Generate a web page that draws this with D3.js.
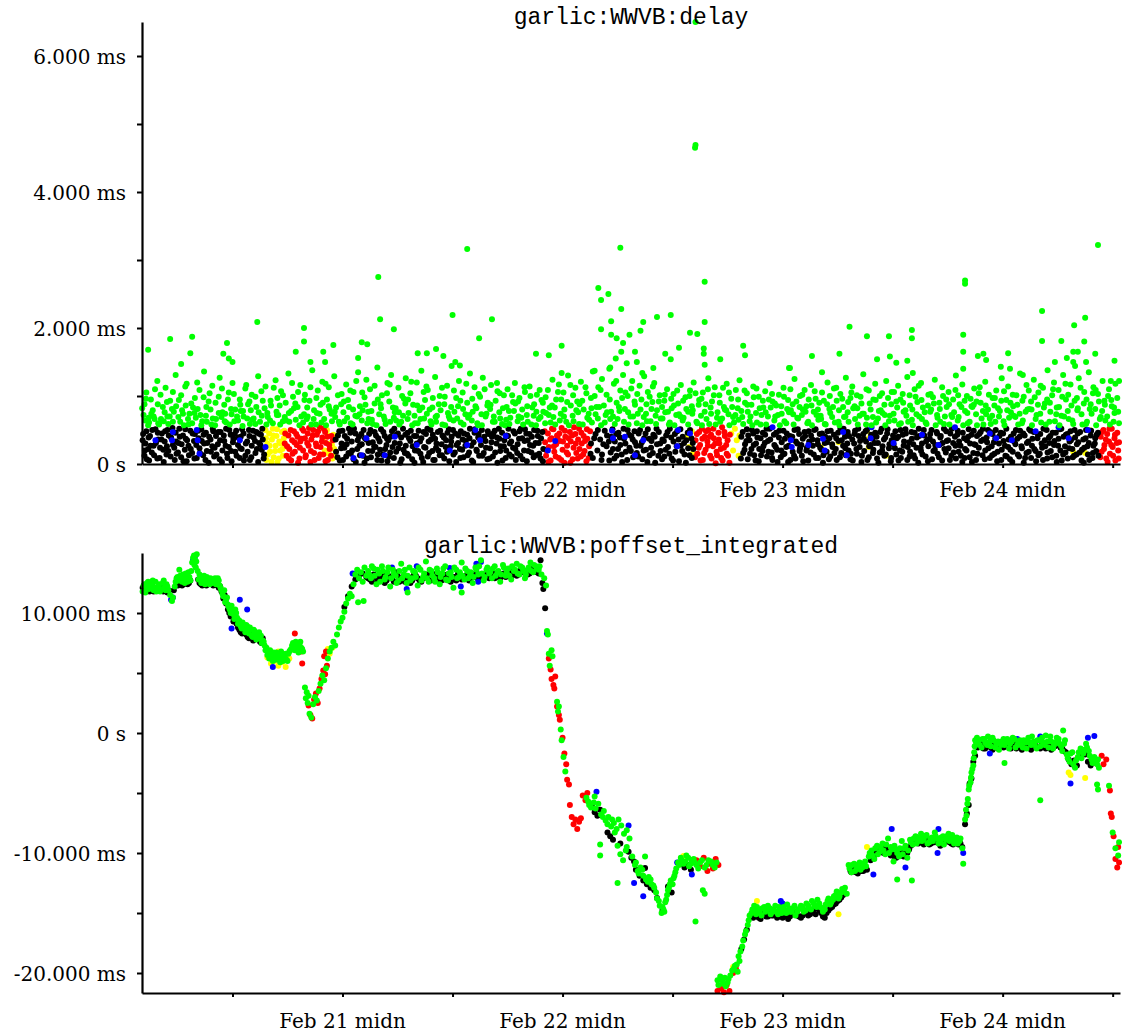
<!DOCTYPE html>
<html><head><meta charset="utf-8">
<script src="https://cdn.jsdelivr.net/npm/d3@7"></script>
<style>body{margin:0;background:#fff}svg{display:block}</style>
</head><body><svg id="c" width="1122" height="1036"></svg>
<script>
// time values: hours since Feb 20 00:00 ; values in ms
const timeStart = 2.13, timeEnd = 108.8;
const dayTicks = [12,24,36,48,60,72,84,96,108];
const dayLabels = {24:"Feb 21 midn",48:"Feb 22 midn",72:"Feb 23 midn",96:"Feb 24 midn"};
const titles = ["garlic:WWVB:delay","garlic:WWVB:poffset_integrated"];
const delayTicks = [0,2,4,6], delayMinor = [1,3,5];
const delayTickLabels = ["0 s","2.000 ms","4.000 ms","6.000 ms"];
const offTicks = [-20,-10,0,10], offMinor = [-15,-5,5];
const offTickLabels = ["-20.000 ms","-10.000 ms","0 s","10.000 ms"];

const delayGreen = [[2.3,.72],[2.6,1.05],[2.9,.61],[2.4,.88],[3.1,.95],[3.5,.66],[3.8,1.22],[3.3,.79],[4.0,.58],[4.4,.84],[4.7,1.12],[4.9,.70],[5.2,.93],[5.5,.62],[5.8,1.31],[5.6,.77],[6.1,.69],[6.4,1.01],[6.7,.57],[6.9,.86],[7.0,1.18],[7.3,.74],[7.6,.60],[7.9,.97],[8.2,.81],[8.4,1.09],[8.7,.63],[8.9,1.36],[9.1,.71],[9.4,.92],[9.7,.58],[9.8,1.15],[10.2,.66],[10.5,.99],[10.6,1.27],[10.9,.76],[11.1,.87],[11.3,.61],[11.6,1.05],[11.9,.73],[12.0,1.19],[12.3,.80],[12.6,.64],[12.8,.95],[13.2,.70],[13.4,1.11],[13.7,.88],[13.9,.59],[14.1,1.02],[14.3,.67],[14.6,.84],[14.8,1.29],[15.0,.62],[15.3,.93],[15.6,1.14],[15.8,.75],[16.2,.86],[16.4,.60],[16.7,1.23],[16.9,.97],[17.0,.72],[17.3,1.07],[17.5,.63],[17.8,.90],[18.1,1.33],[18.4,.78],[18.6,.99],[18.9,.65],[19.1,.84],[19.4,1.16],[19.7,.61],[19.9,1.02],[20.2,.70],[20.4,.93],[20.7,1.38],[20.9,.79],[21.1,.58],[21.3,1.08],[21.6,.87],[21.8,1.21],[22.0,.66],[22.3,.95],[22.5,1.13],[22.8,.74],[23.1,1.29],[23.3,.83],[23.6,.62],[23.9,1.03],[24.1,.76],[24.4,1.17],[24.6,.94],[24.9,.60],[25.2,1.06],[25.4,.71],[25.7,1.35],[25.9,.85],[26.1,.64],[26.4,.98],[26.6,1.24],[26.8,.77],[27.0,1.10],[27.3,.59],[27.5,.89],[27.8,1.42],[28.0,.73],[28.3,1.01],[28.6,.65],[28.9,1.19],[29.1,.92],[29.3,1.31],[29.6,.68],[29.8,.82],[30.1,1.12],[30.4,.62],[30.7,.96],[30.9,1.26],[31.2,.75],[31.4,1.04],[31.7,.87],[31.9,.60],[32.1,1.20],[32.4,.79],[32.6,1.37],[32.9,.67],[33.0,.94],[33.3,1.09],[33.6,.63],[33.8,.83],[34.1,1.28],[34.3,.71],[34.6,1.00],[34.9,.58],[35.1,.88],[35.4,1.15],[35.7,.66],[35.9,1.44],[36.2,.77],[36.4,.97],[36.7,1.22],[36.9,.61],[37.1,1.05],[37.4,.73],[37.6,.90],[37.9,1.33],[38.1,.64],[38.4,1.13],[38.6,.82],[38.8,.57],[39.0,.99],[39.3,1.27],[39.6,.70],[39.8,.86],[40.2,1.16],[40.4,.62],[40.7,.93],[40.9,1.07],[41.1,.76],[41.4,.59],[41.6,1.01],[41.9,.84],[42.0,1.10],[42.3,.68],[42.6,.91],[42.8,1.19],[43.1,.63],[43.3,.97],[43.6,.80],[43.9,1.06],[44.1,.72],[44.4,1.14],[44.6,.58],[44.9,.88],[45.2,1.02],[45.4,.66],[45.7,.94],[45.9,.77],[46.1,.60],[46.4,1.09],[46.6,.83],[46.9,1.24],[47.0,.69],[47.3,.95],[47.6,1.17],[47.8,.74],[48.1,1.05],[48.4,.62],[48.6,1.30],[48.9,.86],[49.1,.71],[49.4,1.12],[49.6,.92],[49.8,.59],[50.0,1.21],[50.3,.80],[50.6,1.04],[50.9,.65],[51.1,.97],[51.3,1.36],[51.6,.73],[51.9,1.13],[52.0,.84],[52.3,1.25],[52.6,.61],[52.8,1.02],[53.1,1.40],[53.3,.77],[53.6,1.18],[53.9,.90],[54.0,.66],[54.3,1.08],[54.6,1.31],[54.8,.81],[55.1,1.00],[55.4,.70],[55.6,1.22],[55.9,.87],[56.1,.60],[56.4,1.15],[56.6,.95],[56.9,1.29],[57.1,.74],[57.3,1.06],[57.6,.63],[57.8,.91],[58.0,1.19],[58.3,.79],[58.6,1.01],[58.9,.67],[59.1,.93],[59.4,1.10],[59.6,.58],[59.9,.82],[60.1,1.03],[60.4,.72],[60.6,.89],[60.9,1.16],[61.1,.64],[61.4,.98],[61.7,.77],[61.9,1.08],[62.1,.85],[62.3,1.20],[62.6,.62],[62.9,.94],[63.1,.71],[63.3,1.05],[63.6,.88],[63.9,1.26],[64.0,.59],[64.3,.92],[64.6,1.13],[64.9,.76],[65.1,1.01],[65.4,.67],[65.6,.84],[65.9,1.18],[66.1,.73],[66.4,.96],[66.7,.61],[66.9,1.09],[67.1,.82],[67.3,1.23],[67.6,.69],[67.9,.90],[68.1,1.04],[68.4,.63],[68.6,.87],[68.8,1.14],[69.1,.75],[69.4,.99],[69.6,.58],[69.9,.83],[70.1,1.07],[70.4,.70],[70.6,1.19],[70.9,.92],[71.1,.64],[71.3,.86],[71.6,1.02],[71.9,.74],[72.1,1.12],[72.4,.60],[72.6,.94],[72.9,.79],[73.1,.88],[73.3,1.25],[73.6,.68],[73.9,1.00],[74.1,.72],[74.4,1.09],[74.6,.85],[74.8,.62],[75.1,1.16],[75.4,.77],[75.6,.96],[75.9,.65],[76.0,.90],[76.3,1.05],[76.6,.59],[76.9,1.20],[77.1,.81],[77.4,.69],[77.6,1.11],[77.9,.93],[78.1,.62],[78.3,1.03],[78.6,.84],[78.9,1.27],[79.1,.76],[79.4,.97],[79.6,1.14],[79.9,.66],[80.1,1.01],[80.4,.71],[80.6,.89],[80.8,1.32],[81.1,.58],[81.4,1.08],[81.6,.80],[81.9,.95],[82.1,1.18],[82.4,.67],[82.6,1.00],[82.9,.75],[83.1,.87],[83.3,1.22],[83.6,.63],[83.9,1.06],[84.1,.74],[84.4,.92],[84.6,1.15],[84.9,.60],[85.1,1.03],[85.4,.79],[85.6,1.28],[85.9,.86],[86.1,.65],[86.4,1.10],[86.7,.91],[86.9,.70],[87.1,1.19],[87.3,.83],[87.6,.61],[87.9,1.02],[88.1,.77],[88.4,.98],[88.6,1.24],[88.9,.68],[89.1,.90],[89.4,1.13],[89.6,.59],[89.9,.84],[90.1,1.06],[90.4,.72],[90.6,.95],[90.9,1.30],[91.1,.64],[91.3,.88],[91.6,1.17],[91.9,.78],[92.1,1.00],[92.4,.62],[92.6,.85],[92.9,1.11],[93.1,.73],[93.4,1.04],[93.6,.90],[93.9,.58],[94.1,1.21],[94.4,.80],[94.6,.67],[94.9,.97],[95.1,.86],[95.3,1.08],[95.6,.70],[95.9,1.26],[96.1,.63],[96.4,.94],[96.6,1.14],[96.9,.76],[97.1,1.02],[97.4,.69],[97.6,.87],[97.9,1.33],[98.1,.60],[98.3,.99],[98.6,1.16],[98.9,.81],[99.1,.92],[99.4,1.24],[99.6,.66],[99.9,1.05],[100.1,.74],[100.4,1.12],[100.6,.89],[100.9,1.38],[101.1,.62],[101.4,1.01],[101.6,1.20],[101.9,.83],[102.1,1.09],[102.4,.71],[102.6,1.31],[102.9,.95],[103.1,.78],[103.4,1.17],[103.6,.64],[103.9,1.44],[104.1,.97],[104.3,1.26],[104.6,.73],[104.9,1.06],[105.1,.59],[105.4,1.35],[105.6,.88],[105.9,1.13],[106.1,.81],[106.4,1.03],[106.6,.66],[106.9,1.22],[107.1,.93],[107.4,.70],[107.6,1.10],[107.9,.85],[108.1,.62],[108.3,1.18],[108.6,.77]];

const delayGreenMid = [[2.15,.82],[2.55,.96],[2.85,.68],[3.15,.74],[3.55,1.10],[3.85,.88],[4.15,1.02],[4.5,.63],[4.85,.91],[5.15,.70],[5.5,1.06],[5.85,.85],[6.15,.94],[6.5,.79],[6.85,1.14],[7.15,.66],[7.5,.89],[7.85,.75],[8.15,1.20],[8.5,.72],[8.85,.98],[9.15,.84],[9.5,1.04],[9.85,.67],[10.15,.90],[10.5,.75],[10.85,1.11],[11.15,.63],[11.5,.95],[11.85,.81],[12.15,1.03],[12.5,.70],[12.85,.87],[13.15,.78],[13.5,1.16],[13.85,.92],[14.15,.65],[14.5,.99],[14.85,.76],[15.15,1.07],[15.5,.82],[15.85,.69],[16.15,.93],[16.5,1.12],[16.85,.72],[17.15,.86],[17.5,1.01],[17.85,.64],[18.15,.75],[18.5,1.19],[18.85,.89],[19.15,1.06],[19.5,.70],[19.85,.94],[20.15,.83],[20.5,1.13],[20.85,.66],[21.15,.97],[21.5,.74],[21.85,.90],[22.15,1.18],[22.5,.85],[22.85,.63],[23.15,.77],[23.5,1.01],[23.85,.88],[24.15,.92],[24.5,.68],[24.85,1.08],[25.15,.80],[25.5,1.22],[25.85,.73],[26.15,1.05],[26.5,.87],[26.85,.66],[27.15,.78],[27.5,1.15],[27.85,.95],[28.15,.88],[28.5,.70],[28.85,1.04],[29.15,1.17],[29.5,.83],[29.85,.64],[30.15,.76],[30.5,1.00],[30.85,.89],[31.15,.95],[31.5,1.21],[31.85,.71],[32.15,.86],[32.5,.66],[32.85,1.06],[33.15,1.14],[33.5,.80],[33.85,.97],[34.15,.69],[34.5,.88],[34.85,1.12],[35.15,.99],[35.5,.75],[35.85,.84],[36.15,1.08],[36.5,.67],[36.85,.93],[37.15,.81],[37.5,1.18],[37.85,.72],[38.15,.96],[38.5,.85],[38.85,1.03],[39.15,.73],[39.5,1.10],[39.85,.90],[40.15,.87],[40.5,.70],[40.85,1.19],[41.15,1.04],[41.5,.82],[41.85,.65],[42.15,.78],[42.5,1.01],[42.85,.89],[43.15,.92],[43.5,.68],[43.85,1.13],[44.15,.85],[44.5,1.00],[44.85,.71],[45.15,.77],[45.5,1.09],[45.85,.90],[46.15,.98],[46.5,.72],[46.85,.86],[47.15,.83],[47.5,1.06],[47.85,.95],[48.15,.70],[48.5,.91],[48.85,1.16],[49.15,1.01],[49.5,.79],[49.85,.88],[50.15,.93],[50.5,1.13],[50.85,.74],[51.15,.82],[51.5,1.00],[51.85,.67],[52.15,1.09],[52.5,.86],[52.85,.76],[53.15,.95],[53.5,.70],[53.85,1.22],[54.15,.84],[54.5,.97],[54.85,1.05],[55.15,.76],[55.5,1.11],[55.85,.92],[56.15,1.03],[56.5,.80],[56.85,.69],[57.15,.88],[57.5,.99],[57.85,1.14],[58.15,.71],[58.5,.92],[58.85,.84],[59.15,1.02],[59.5,.77],[59.85,.96],[60.15,.86],[60.5,1.08],[60.85,.70],[61.15,.93],[61.5,.81],[61.85,1.00],[62.15,.74],[62.5,1.04],[62.85,.87],[63.15,.96],[63.5,.77],[63.85,1.10],[64.15,.83],[64.5,1.01],[64.85,.68],[65.15,.90],[65.5,1.12],[65.85,.79],[66.15,1.05],[66.5,.84],[66.85,.72],[67.15,.95],[67.5,.78],[67.85,1.08],[68.15,.87],[68.5,.70],[68.85,.98],[69.15,1.11],[69.5,.82],[69.85,.93],[70.15,.76],[70.5,.95],[70.85,1.03],[71.15,.89],[71.5,.72],[71.85,.85],[72.15,.99],[72.5,.81],[72.85,1.10],[73.15,.73],[73.5,.92],[73.85,.84],[74.15,1.02],[74.5,.77],[74.85,.95],[75.15,.86],[75.5,1.07],[75.85,.80],[76.15,.71],[76.5,.93],[76.85,.88],[77.15,1.00],[77.5,.84],[77.85,1.12],[78.15,.79],[78.5,.96],[78.85,.70],[79.15,.91],[79.5,1.05],[79.85,.85],[80.15,.82],[80.5,.99],[80.85,.74],[81.15,1.10],[81.5,.89],[81.85,.69],[82.15,.94],[82.5,.78],[82.85,1.04],[83.15,.72],[83.5,.97],[83.85,.88],[84.15,1.06],[84.5,.83],[84.85,.95],[85.15,.90],[85.5,.71],[85.85,1.01],[86.15,.80],[86.5,.99],[86.85,1.15],[87.15,.94],[87.5,.76],[87.85,.86],[88.15,1.03],[88.5,.89],[88.85,.72],[89.15,.81],[89.5,1.00],[89.85,.95],[90.15,.88],[90.5,.69],[90.85,1.09],[91.15,1.01],[91.5,.84],[91.85,.93],[92.15,.75],[92.5,.96],[92.85,.87],[93.15,.92],[93.5,1.13],[93.85,.78],[94.15,.86],[94.5,1.02],[94.85,.71],[95.15,.97],[95.5,.82],[95.85,.93],[96.15,1.07],[96.5,.79],[96.85,.90],[97.15,.85],[97.5,1.01],[97.85,.74],[98.15,.93],[98.5,.77],[98.85,1.08],[99.15,.80],[99.5,.98],[99.85,.87],[100.15,1.15],[100.5,.83],[100.85,.95],[101.15,.90],[101.5,1.10],[101.85,.73],[102.15,.84],[102.5,.99],[102.85,1.18],[103.15,1.02],[103.5,.86],[103.85,.93],[104.15,.79],[104.5,1.12],[104.85,.89],[105.15,.95],[105.5,.81],[105.85,1.04],[106.15,1.09],[106.5,.92],[106.85,.78],[107.15,.87],[107.5,1.00],[107.85,.94],[108.15,.83],[108.5,.97]];

const delayGreenLow = [[2.5,.64],[2.8,.57],[3.4,.70],[3.9,.60],[4.2,.66],[4.6,.76],[5.0,.59],[5.4,.81],[6.3,.62],[6.6,.74],[7.2,.58],[7.7,.83],[8.0,.68],[8.6,.57],[9.2,.62],[9.6,.80],[10.1,.57],[10.8,.69],[11.2,.74],[11.7,.58],[12.2,.63],[12.9,.78],[13.1,.56],[13.6,.67],[14.0,.79],[14.5,.59],[15.2,.71],[15.7,.58],[16.1,.64],[16.8,.77],[17.2,.58],[17.7,.69],[18.2,.62],[18.7,.82],[19.3,.57],[19.8,.73],[20.1,.66],[20.6,.58],[21.2,.75],[21.7,.61],[22.2,.57],[22.6,.80],[23.2,.69],[23.7,.58],[24.2,.63],[24.7,.84],[25.1,.58],[25.6,.70],[26.2,.79],[26.7,.60],[27.2,.65],[27.7,.57],[28.2,.82],[28.7,.59],[29.2,.62],[29.7,.76],[30.2,.58],[30.6,.71],[31.1,.66],[31.6,.57],[32.2,.60],[32.7,.83],[33.2,.74],[33.7,.58],[34.2,.62],[34.7,.79],[35.2,.57],[35.6,.70],[36.1,.64],[36.6,.85],[37.2,.58],[37.7,.68],[38.2,.77],[38.7,.60],[39.2,.57],[39.7,.74],[40.1,.81],[40.6,.62],[41.2,.67],[41.7,.57],[42.2,.59],[42.7,.78],[43.2,.70],[43.7,.58],[44.2,.62],[44.7,.83],[45.1,.57],[45.6,.69],[46.2,.75],[46.7,.61],[47.2,.58],[47.7,.64],[48.2,.80],[48.7,.57],[49.2,.63],[49.7,.76],[50.2,.58],[50.7,.68],[51.2,.61],[51.7,.84],[52.2,.57],[52.7,.72],[53.2,.66],[53.7,.59],[54.2,.78],[54.7,.62],[55.2,.58],[55.7,.70],[56.2,.74],[56.7,.57],[57.2,.63],[57.7,.81],[58.2,.59],[58.7,.67],[59.2,.76],[59.7,.61],[60.2,.57],[60.7,.73],[61.2,.68],[61.7,.58],[62.2,.79],[62.7,.60],[63.2,.57],[63.7,.66],[64.2,.74],[64.7,.58],[65.2,.62],[65.7,.80],[66.2,.57],[66.6,.69],[67.2,.65],[67.7,.59],[68.2,.77],[68.7,.57],[69.2,.61],[69.7,.72],[70.2,.58],[70.7,.83],[71.2,.70],[71.7,.57],[72.2,.63],[72.7,.76],[73.2,.58],[73.7,.67],[74.2,.80],[74.7,.60],[75.2,.57],[75.7,.72],[76.2,.66],[76.7,.58],[77.2,.75],[77.7,.61],[78.2,.57],[78.7,.69],[79.2,.62],[79.7,.82],[80.2,.58],[80.7,.74],[81.2,.68],[81.7,.57],[82.2,.61],[82.7,.79],[83.2,.57],[83.7,.71],[84.2,.64],[84.7,.58],[85.2,.77],[85.7,.62],[86.2,.57],[86.6,.73],[87.2,.66],[87.7,.59],[88.2,.80],[88.7,.57],[89.2,.62],[89.7,.70],[90.2,.58],[90.7,.76],[91.2,.69],[91.7,.57],[92.2,.60],[92.7,.84],[93.2,.57],[93.7,.67],[94.2,.73],[94.7,.59],[95.2,.62],[95.7,.78],[96.2,.57],[96.7,.68],[97.2,.71],[97.7,.58],[98.2,.64],[98.7,.80],[99.2,.57],[99.7,.72],[100.2,.61],[100.7,.58],[101.2,.77],[101.7,.63],[102.2,.57],[102.7,.70],[103.2,.66],[103.7,.59],[104.2,.82],[104.7,.58],[105.2,.62],[105.7,.74],[106.2,.57],[106.7,.69],[107.2,.64],[107.7,.58],[108.2,.75],[108.7,.60]];

const delayGreenHigh = [[2.8,1.68],[5.2,1.84],[7.6,1.87],[7.4,1.63],[6.4,1.47],[11.0,1.62],[11.6,1.55],[12.0,1.5],[11.4,1.78],[14.7,2.09],[19.8,2.0],[19.8,1.8],[18.9,1.65],[20.5,1.5],[23.0,1.75],[21.9,1.65],[22.1,1.5],[26.1,1.79],[26.7,1.76],[25.7,1.56],[27.9,2.75],[28.1,2.13],[29.6,1.98],[32.2,1.63],[33.2,1.63],[34.2,1.69],[35.0,1.59],[36.0,2.19],[36.3,1.5],[36.8,1.45],[37.6,3.16],[38.9,1.85],[40.3,2.13],[45.1,1.62],[46.5,1.6],[47.9,1.74],[47.9,1.34],[51.5,1.37],[51.9,2.59],[53.0,2.5],[52.2,2.41],[54.4,2.28],[54.3,3.18],[53.3,2.1],[52.2,1.98],[56.8,2.09],[58.3,2.16],[59.8,2.19],[63.5,2.09],[61.9,1.93],[62.7,1.91],[53.3,1.9],[53.9,1.85],[54.6,1.78],[55.3,1.9],[56.5,1.96],[60.7,1.71],[67.7,1.74],[67.9,1.6],[63.4,1.62],[63.4,1.7],[53.2,1.42],[53.8,1.55],[54.4,1.65],[55.0,1.48],[55.9,1.65],[56.1,1.5],[59.2,1.62],[59.8,1.54],[57.9,1.41],[56.7,1.34],[65.2,1.54],[63.5,1.46],[72.7,1.41],[62.5,6.5],[62.5,4.69],[62.45,4.65],[63.5,2.68],[79.3,2.02],[81.2,1.88],[83.6,1.88],[86.1,1.97],[86.1,1.85],[91.7,1.9],[91.9,2.7],[91.9,2.65],[100.3,2.25],[105.0,2.15],[100.3,1.81],[103.8,2.04],[104.9,1.8],[72.8,1.41],[75.2,1.59],[78.2,1.62],[76.3,1.35],[82.3,1.54],[83.7,1.58],[84.4,1.49],[85.6,1.52],[86.2,1.34],[91.7,1.65],[91.7,1.4],[93.3,1.59],[93.9,1.62],[94.2,1.53],[96.6,1.63],[95.8,1.43],[98.2,1.31],[102.4,1.81],[101.7,1.5],[103.0,1.56],[103.7,1.65],[103.7,1.5],[104.2,1.65],[105.1,1.5],[106.1,1.62],[106.4,3.22],[108.2,1.52],[107.8,1.22],[108.7,1.22],[96.8,1.4]];

const delayBlack = [[2.2,.35],[2.4,.12],[2.6,.48],[2.8,.22],[2.9,.05],[2.5,.30],[3.0,.41],[3.2,.17],[3.4,.27],[3.6,.51],[3.8,.08],[3.9,.36],[4.1,.24],[4.3,.45],[4.5,.03],[4.6,.33],[4.8,.14],[4.9,.50],[5.0,.19],[5.3,.39],[5.5,.28],[5.7,.06],[5.8,.46],[5.9,.15],[6.1,.31],[6.2,.52],[6.4,.10],[6.6,.42],[6.8,.21],[6.9,.37],[7.0,.04],[7.2,.27],[7.4,.49],[7.6,.16],[7.8,.34],[7.9,.44],[8.1,.09],[8.3,.38],[8.4,.23],[8.6,.51],[8.8,.13],[8.9,.30],[9.1,.46],[9.2,.19],[9.4,.02],[9.6,.36],[9.8,.26],[9.9,.48],[10.0,.11],[10.2,.41],[10.4,.29],[10.6,.07],[10.7,.47],[10.9,.20],[11.1,.34],[11.3,.52],[11.4,.15],[11.6,.25],[11.8,.43],[11.9,.04],[12.1,.37],[12.3,.18],[12.4,.49],[12.6,.28],[12.8,.09],[12.9,.40],[13.0,.22],[13.2,.45],[13.4,.12],[13.6,.33],[13.8,.50],[13.9,.06],[14.1,.27],[14.3,.39],[14.5,.16],[14.6,.47],[14.8,.03],[14.9,.31],[15.1,.43],[15.2,.21],[15.4,.08],[15.3,.36],[23.3,.18],[23.5,.42],[23.7,.05],[23.9,.30],[24.0,.49],[24.2,.24],[24.4,.11],[24.5,.37],[24.7,.52],[24.9,.15],[25.0,.33],[25.2,.07],[25.4,.45],[25.6,.22],[25.8,.40],[25.9,.13],[26.1,.29],[26.3,.50],[26.4,.02],[26.6,.36],[26.8,.19],[26.9,.44],[27.1,.10],[27.3,.32],[27.5,.47],[27.6,.25],[27.8,.06],[27.9,.38],[28.1,.21],[28.2,.51],[28.4,.14],[28.6,.41],[28.8,.28],[28.9,.04],[29.0,.35],[29.2,.17],[29.4,.48],[29.6,.09],[29.7,.31],[29.9,.43],[30.1,.23],[30.3,.02],[30.4,.39],[30.6,.52],[30.8,.16],[30.9,.27],[31.1,.46],[31.2,.12],[31.4,.34],[31.6,.07],[31.8,.41],[31.9,.20],[32.1,.30],[32.3,.49],[32.5,.15],[32.6,.38],[32.8,.03],[32.9,.25],[33.1,.44],[33.3,.11],[33.4,.33],[33.6,.50],[33.8,.19],[33.9,.06],[34.1,.37],[34.2,.24],[34.4,.47],[34.6,.13],[34.8,.29],[34.9,.42],[35.1,.08],[35.3,.35],[35.4,.18],[35.6,.51],[35.8,.26],[35.9,.40],[36.1,.14],[36.3,.45],[36.4,.03],[36.6,.31],[36.8,.22],[36.9,.48],[37.1,.36],[37.2,.10],[37.4,.27],[37.6,.43],[37.8,.17],[37.9,.52],[38.1,.05],[38.3,.32],[38.4,.46],[38.6,.21],[38.8,.39],[38.9,.12],[39.1,.28],[39.2,.50],[39.4,.16],[39.6,.34],[39.8,.07],[39.9,.44],[40.1,.23],[40.3,.40],[40.4,.11],[40.6,.49],[40.8,.30],[40.9,.02],[41.1,.37],[41.2,.19],[41.4,.46],[41.6,.26],[41.8,.09],[41.9,.42],[42.1,.52],[42.2,.14],[42.4,.33],[42.6,.24],[42.8,.45],[42.9,.06],[43.1,.29],[43.3,.48],[43.4,.12],[43.6,.38],[43.8,.20],[43.9,.51],[44.1,.04],[44.2,.35],[44.4,.44],[44.6,.17],[44.8,.27],[44.9,.50],[45.1,.13],[45.3,.41],[45.4,.31],[45.6,.08],[45.8,.47],[45.9,.22],[51.1,.30],[51.3,.09],[51.6,.44],[51.8,.20],[52.1,.36],[52.3,.14],[52.6,.49],[52.8,.26],[53.1,.05],[53.3,.40],[53.5,.22],[53.7,.33],[53.9,.12],[54.1,.46],[54.3,.28],[54.5,.03],[54.7,.37],[54.9,.18],[55.1,.50],[55.3,.24],[55.5,.41],[55.7,.10],[55.9,.32],[56.1,.16],[56.3,.45],[56.5,.27],[56.7,.07],[56.9,.38],[57.1,.21],[57.3,.51],[57.5,.13],[57.7,.34],[57.9,.43],[58.1,.02],[58.3,.29],[58.5,.47],[58.7,.19],[58.9,.36],[59.1,.11],[59.3,.42],[59.5,.25],[59.7,.52],[59.9,.08],[60.1,.33],[60.3,.18],[60.5,.48],[60.7,.04],[60.9,.27],[61.1,.40],[61.3,.14],[61.5,.35],[61.7,.23],[61.9,.50],[62.1,.09],[62.2,.31],[67.5,.40],[67.7,.16],[67.9,.29],[68.1,.51],[68.2,.07],[68.4,.35],[68.6,.22],[68.8,.45],[68.9,.13],[69.1,.30],[69.2,.48],[69.4,.04],[69.6,.38],[69.8,.19],[69.9,.26],[70.1,.43],[70.3,.11],[70.4,.34],[70.6,.52],[70.8,.17],[70.9,.06],[71.1,.28],[71.3,.46],[71.4,.21],[71.6,.39],[71.8,.10],[71.9,.32],[72.1,.49],[72.2,.15],[72.4,.25],[72.6,.03],[72.8,.41],[72.9,.36],[73.1,.18],[73.3,.50],[73.4,.08],[73.6,.30],[73.8,.44],[73.9,.23],[74.1,.12],[74.2,.37],[74.4,.47],[74.6,.20],[74.8,.05],[74.9,.33],[75.1,.42],[75.3,.27],[75.4,.14],[75.6,.51],[75.8,.35],[75.9,.09],[76.1,.24],[76.3,.45],[76.4,.02],[76.6,.31],[76.8,.18],[76.9,.48],[77.1,.38],[77.2,.11],[77.4,.29],[77.6,.43],[77.8,.22],[77.9,.06],[78.1,.34],[78.3,.52],[78.4,.16],[78.6,.27],[78.8,.40],[78.9,.13],[79.1,.47],[79.2,.20],[79.4,.07],[79.6,.36],[79.8,.30],[79.9,.49],[80.1,.15],[80.3,.41],[80.4,.25],[80.6,.03],[80.8,.44],[80.9,.19],[81.1,.33],[81.2,.50],[81.4,.10],[81.6,.28],[81.8,.37],[81.9,.21],[82.1,.46],[82.3,.08],[82.4,.31],[82.6,.17],[82.8,.52],[82.9,.26],[83.1,.12],[83.2,.39],[83.4,.45],[83.6,.23],[83.8,.04],[83.9,.35],[84.1,.29],[84.3,.48],[84.4,.14],[84.6,.40],[84.8,.20],[84.9,.09],[85.1,.43],[85.2,.27],[85.4,.51],[85.6,.06],[85.8,.32],[85.9,.18],[86.1,.37],[86.3,.13],[86.4,.46],[86.6,.24],[86.8,.02],[86.9,.41],[87.1,.19],[87.2,.30],[87.4,.50],[87.6,.11],[87.8,.36],[87.9,.26],[88.1,.44],[88.3,.07],[88.4,.33],[88.6,.21],[88.8,.47],[88.9,.15],[89.1,.28],[89.2,.39],[89.4,.05],[89.6,.52],[89.8,.17],[89.9,.34],[90.1,.23],[90.3,.45],[90.4,.12],[90.6,.31],[90.8,.40],[90.9,.08],[91.1,.49],[91.2,.18],[91.4,.27],[91.6,.03],[91.8,.38],[91.9,.22],[92.1,.35],[92.3,.51],[92.4,.10],[92.6,.43],[92.8,.16],[92.9,.29],[93.1,.06],[93.2,.41],[93.4,.24],[93.6,.47],[93.8,.13],[93.9,.36],[94.1,.20],[94.3,.32],[94.4,.50],[94.6,.09],[94.8,.26],[94.9,.44],[95.1,.15],[95.2,.38],[95.4,.04],[95.6,.30],[95.8,.46],[95.9,.21],[96.1,.34],[96.3,.12],[96.4,.52],[96.6,.25],[96.8,.07],[96.9,.40],[97.1,.18],[97.2,.45],[97.4,.29],[97.6,.37],[97.8,.11],[97.9,.49],[98.1,.23],[98.3,.02],[98.4,.42],[98.6,.16],[98.8,.33],[98.9,.51],[99.1,.09],[99.2,.27],[99.4,.47],[99.6,.19],[99.8,.38],[99.9,.13],[100.1,.44],[100.3,.24],[100.4,.06],[100.6,.35],[100.8,.50],[100.9,.17],[101.1,.31],[101.2,.41],[101.4,.10],[101.6,.28],[101.8,.46],[101.9,.03],[102.1,.37],[102.3,.20],[102.4,.52],[102.6,.14],[102.8,.26],[102.9,.43],[103.1,.08],[103.3,.33],[103.4,.48],[103.6,.22],[103.8,.12],[103.9,.39],[104.1,.29],[104.2,.45],[104.4,.17],[104.6,.05],[104.8,.36],[104.9,.24],[105.1,.50],[105.3,.14],[105.4,.31],[105.6,.42],[105.8,.09],[105.9,.27],[106.1,.38],[106.2,.19],[106.4,.46]];

const delayBlack2 = [[2.25,.44],[2.45,.20],[2.65,.07],[2.85,.39],[3.05,.27],[3.25,.50],[3.45,.13],[3.65,.31],[3.85,.46],[4.05,.09],[4.25,.36],[4.45,.21],[4.65,.48],[4.85,.26],[5.05,.42],[5.25,.11],[5.45,.53],[5.65,.24],[5.85,.33],[6.05,.17],[6.25,.40],[6.45,.29],[6.65,.04],[6.85,.51],[7.05,.35],[7.25,.13],[7.45,.22],[7.65,.45],[7.85,.08],[8.05,.28],[8.25,.49],[8.45,.16],[8.65,.34],[8.85,.43],[9.05,.06],[9.25,.31],[9.45,.40],[9.65,.18],[9.85,.52],[10.05,.24],[10.25,.14],[10.45,.47],[10.65,.35],[10.85,.03],[11.05,.42],[11.25,.27],[11.45,.09],[11.65,.50],[11.85,.19],[12.05,.32],[12.25,.44],[12.45,.12],[12.65,.39],[12.85,.23],[13.05,.51],[13.25,.05],[13.45,.30],[13.65,.18],[13.85,.41],[14.05,.10],[14.25,.49],[14.45,.34],[14.65,.22],[14.85,.45],[15.05,.28],[15.25,.52],[15.45,.14],[23.25,.36],[23.45,.10],[23.65,.48],[23.85,.23],[24.05,.06],[24.25,.41],[24.45,.29],[24.65,.16],[24.85,.46],[25.05,.20],[25.25,.52],[25.45,.03],[25.65,.35],[25.85,.27],[26.05,.44],[26.25,.12],[26.45,.38],[26.65,.08],[26.85,.31],[27.05,.50],[27.25,.19],[27.45,.26],[27.65,.42],[27.85,.14],[28.05,.33],[28.25,.05],[28.45,.47],[28.65,.22],[28.85,.37],[29.05,.11],[29.25,.40],[29.45,.25],[29.65,.52],[29.85,.18],[30.05,.45],[30.25,.30],[30.45,.07],[30.65,.21],[30.85,.43],[31.05,.15],[31.25,.38],[31.45,.49],[31.65,.26],[31.85,.02],[32.05,.41],[32.25,.19],[32.45,.33],[32.65,.09],[32.85,.47],[33.05,.24],[33.25,.52],[33.45,.16],[33.65,.36],[33.85,.43],[34.05,.06],[34.25,.30],[34.45,.20],[34.65,.49],[34.85,.13],[35.05,.39],[35.25,.25],[35.45,.46],[35.65,.04],[35.85,.33],[36.05,.50],[36.25,.17],[36.45,.28],[36.65,.42],[36.85,.09],[37.05,.21],[37.25,.45],[37.45,.34],[37.65,.13],[37.85,.38],[38.05,.27],[38.25,.03],[38.45,.51],[38.65,.19],[38.85,.44],[39.05,.36],[39.25,.12],[39.45,.40],[39.65,.24],[39.85,.48],[40.05,.08],[40.25,.32],[40.45,.45],[40.65,.17],[40.85,.39],[41.05,.52],[41.25,.26],[41.45,.05],[41.65,.35],[41.85,.20],[42.05,.41],[42.25,.30],[42.45,.11],[42.65,.48],[42.85,.22],[43.05,.16],[43.25,.37],[43.45,.52],[43.65,.07],[43.85,.34],[44.05,.45],[44.25,.19],[44.45,.28],[44.65,.40],[44.85,.10],[45.05,.31],[45.25,.49],[45.45,.15],[45.65,.38],[45.85,.04],[51.05,.15],[51.45,.38],[51.85,.50],[52.25,.06],[52.45,.29],[52.85,.42],[53.05,.33],[53.25,.17],[53.45,.51],[53.65,.08],[53.85,.44],[54.05,.22],[54.25,.39],[54.45,.14],[54.65,.52],[54.85,.30],[55.05,.06],[55.25,.43],[55.45,.19],[55.65,.36],[55.85,.48],[56.05,.27],[56.25,.11],[56.45,.50],[56.65,.32],[56.85,.20],[57.05,.45],[57.25,.03],[57.45,.37],[57.65,.24],[57.85,.16],[58.05,.40],[58.25,.52],[58.45,.12],[58.65,.30],[58.85,.07],[59.05,.34],[59.25,.21],[59.45,.47],[59.65,.15],[59.85,.39],[60.05,.05],[60.25,.44],[60.45,.26],[60.65,.36],[60.85,.51],[61.05,.19],[61.25,.31],[61.45,.02],[61.65,.46],[61.85,.13],[62.05,.38],[62.25,.22],[67.45,.08],[67.65,.47],[67.85,.21],[68.05,.34],[68.25,.42],[68.45,.15],[68.65,.50],[68.85,.28],[69.05,.05],[69.25,.39],[69.45,.22],[69.65,.13],[69.85,.46],[70.05,.31],[70.25,.52],[70.45,.18],[70.65,.36],[70.85,.09],[71.05,.43],[71.25,.25],[71.45,.03],[71.65,.49],[71.85,.20],[72.05,.14],[72.25,.37],[72.45,.45],[72.65,.27],[72.85,.06],[73.05,.40],[73.25,.12],[73.45,.33],[73.65,.51],[73.85,.19],[74.05,.28],[74.25,.04],[74.45,.41],[74.65,.24],[74.85,.48],[75.05,.17],[75.25,.36],[75.45,.50],[75.65,.09],[75.85,.29],[76.05,.44],[76.25,.21],[76.45,.13],[76.65,.40],[76.85,.32],[77.05,.07],[77.25,.49],[77.45,.25],[77.65,.16],[77.85,.38],[78.05,.46],[78.25,.10],[78.45,.35],[78.65,.52],[78.85,.23],[79.05,.30],[79.25,.41],[79.45,.15],[79.65,.05],[79.85,.44],[80.05,.22],[80.25,.52],[80.45,.34],[80.65,.12],[80.85,.37],[81.05,.48],[81.25,.06],[81.45,.26],[81.65,.43],[81.85,.16],[82.05,.31],[82.25,.40],[82.45,.02],[82.65,.47],[82.85,.20],[83.05,.36],[83.25,.14],[83.45,.51],[83.65,.29],[83.85,.09],[84.05,.42],[84.25,.23],[84.45,.38],[84.65,.05],[84.85,.50],[85.05,.18],[85.25,.33],[85.45,.45],[85.65,.25],[85.85,.11],[86.05,.47],[86.25,.29],[86.45,.08],[86.65,.39],[86.85,.52],[87.05,.24],[87.25,.14],[87.45,.42],[87.65,.33],[87.85,.04],[88.05,.37],[88.25,.50],[88.45,.19],[88.65,.28],[88.85,.45],[89.05,.10],[89.25,.41],[89.45,.31],[89.65,.22],[89.85,.48],[90.05,.35],[90.25,.06],[90.45,.52],[90.65,.17],[90.85,.27],[91.05,.43],[91.25,.33],[91.45,.12],[91.65,.46],[91.85,.09],[92.05,.20],[92.25,.40],[92.45,.30],[92.65,.03],[92.85,.49],[93.05,.28],[93.25,.15],[93.45,.44],[93.65,.34],[93.85,.52],[94.05,.07],[94.25,.39],[94.45,.23],[94.65,.47],[94.85,.13],[95.05,.32],[95.25,.50],[95.45,.18],[95.65,.41],[95.85,.06],[96.05,.45],[96.25,.27],[96.45,.11],[96.65,.36],[96.85,.21],[97.05,.03],[97.25,.33],[97.45,.50],[97.65,.14],[97.85,.40],[98.05,.26],[98.25,.45],[98.45,.09],[98.65,.31],[98.85,.18],[99.05,.49],[99.25,.37],[99.45,.22],[99.65,.04],[99.85,.43],[100.05,.15],[100.25,.30],[100.45,.52],[100.65,.26],[100.85,.08],[101.05,.39],[101.25,.19],[101.45,.46],[101.65,.34],[101.85,.12],[102.05,.27],[102.25,.51],[102.45,.05],[102.65,.40],[102.85,.17],[103.05,.44],[103.25,.23],[103.45,.35],[103.65,.10],[103.85,.50],[104.05,.14],[104.25,.32],[104.45,.47],[104.65,.21],[104.85,.02],[105.05,.38],[105.25,.26],[105.45,.06],[105.65,.49],[105.85,.16],[106.05,.30],[106.25,.43],[106.45,.12]];

const delayBlue = [[3.6,.35],[5.4,.35],[5.5,.47],[8.1,.50],[8.2,.35],[8.4,.15],[12.8,.35],[15.6,.25],[25.2,.09],[26.1,.13],[26.6,.38],[28.6,.13],[29.7,.40],[32.1,.28],[35.7,.20],[37.6,.28],[38.5,.50],[39.0,.35],[41.8,.41],[46.4,.20],[47.2,.34],[53.4,.49],[53.5,.38],[54.8,.40],[55.9,.13],[56.8,.35],[60.5,.26],[60.6,.50],[61.9,.45],[70.9,.54],[73.0,.25],[72.9,.35],[74.8,.28],[76.6,.20],[76.4,.37],[78.6,.47],[79.0,.13],[81.7,.54],[81.6,.38],[84.1,.31],[87.2,.43],[89.0,.28],[90.8,.54],[94.6,.45],[95.3,.38],[97.0,.35],[99.6,.48],[102.1,.54],[103.2,.38],[105.3,.50]];

const delayRed = [[17.7,.30],[17.9,.12],[18.1,.42],[18.2,.22],[18.4,.05],[18.5,.35],[18.7,.48],[18.8,.18],[19.0,.28],[19.1,.40],[19.3,.08],[19.4,.33],[19.6,.52],[19.7,.20],[19.9,.38],[20.0,.13],[20.2,.45],[20.3,.27],[20.5,.03],[20.6,.36],[20.8,.50],[20.9,.16],[21.1,.30],[21.2,.43],[21.4,.09],[21.5,.55],[21.6,.25],[21.8,.39],[21.9,.14],[22.1,.47],[22.2,.31],[22.4,.06],[22.6,.22],[22.8,.41],[46.1,.32],[46.2,.12],[46.4,.45],[46.5,.25],[46.7,.05],[46.8,.38],[47.0,.51],[47.1,.18],[47.3,.29],[47.4,.42],[47.6,.09],[47.7,.34],[47.9,.53],[48.0,.21],[48.2,.02],[48.3,.40],[48.5,.27],[48.6,.14],[48.8,.47],[48.9,.33],[49.1,.07],[49.2,.24],[49.4,.44],[49.5,.16],[49.7,.36],[49.8,.52],[50.0,.11],[50.1,.30],[50.3,.41],[50.4,.19],[50.6,.04],[50.7,.37],[50.9,.26],[51.0,.48],[62.5,.35],[62.7,.15],[62.9,.47],[63.0,.28],[63.2,.52],[63.3,.06],[63.5,.40],[63.6,.21],[63.8,.33],[63.9,.50],[64.1,.12],[64.2,.43],[64.4,.26],[64.5,.38],[64.7,.01],[64.8,.18],[65.0,.46],[65.1,.30],[65.3,.09],[65.4,.54],[65.6,.24],[65.7,.41],[65.9,.15],[66.0,.35],[66.2,.02],[106.7,.40],[106.8,.18],[107.0,.50],[107.1,.28],[107.3,.08],[107.4,.44],[107.6,.33],[107.7,.15],[107.9,.52],[108.0,.25],[108.2,.38],[108.3,.05],[108.5,.46],[108.6,.20],[108.7,.32],[17.75,.45],[17.95,.26],[18.15,.08],[18.35,.50],[18.55,.15],[18.75,.32],[18.95,.44],[19.15,.02],[19.35,.24],[19.55,.37],[19.75,.49],[19.95,.10],[20.15,.31],[20.35,.53],[20.55,.19],[20.75,.42],[20.95,.06],[21.15,.26],[21.35,.48],[21.55,.14],[21.75,.33],[21.95,.52],[22.15,.04],[22.35,.40],[22.55,.28],[22.75,.12],[22.95,.35],[46.05,.48],[46.25,.20],[46.45,.03],[46.65,.36],[46.85,.52],[47.05,.26],[47.25,.11],[47.45,.40],[47.65,.45],[47.85,.06],[48.05,.33],[48.25,.49],[48.45,.17],[48.65,.38],[48.85,.02],[49.05,.42],[49.25,.54],[49.45,.30],[49.65,.08],[49.85,.22],[50.05,.46],[50.25,.14],[50.45,.34],[50.65,.51],[50.85,.09],[62.45,.10],[62.65,.44],[62.85,.24],[63.05,.05],[63.25,.37],[63.45,.16],[63.65,.48],[63.85,.27],[64.05,.40],[64.25,.08],[64.45,.52],[64.65,.30],[64.85,.13],[65.05,.36],[65.25,.22],[65.45,.05],[65.65,.47],[65.85,.28],[66.05,.12],[66.25,.43],[106.65,.10],[106.85,.47],[107.05,.22],[107.25,.36],[107.45,.03],[107.65,.52],[107.85,.28],[108.05,.12],[108.25,.43],[108.45,.31],[108.65,.08]];

const delayYellow = [[15.6,.50],[15.7,.06],[15.8,.30],[16.0,.45],[16.1,.18],[16.3,.36],[16.4,.52],[16.5,.10],[16.7,.27],[16.8,.41],[16.9,.03],[17.1,.33],[17.2,.20],[17.4,.47],[17.5,.12],[17.6,.38],[18.0,.25],[21.9,.35],[22.3,.50],[22.5,.15],[22.7,.30],[22.9,.08],[23.0,.43],[23.1,.22],[61.6,.40],[61.8,.25],[62.1,.48],[62.2,.15],[66.4,.45],[66.6,.20],[66.8,.52],[67.0,.35],[67.2,.12],[67.3,.42],[76.2,.25],[78.1,.32],[81.2,.48],[81.4,.38],[81.4,.25],[83.3,.12],[103.3,.38],[103.7,.18],[105.0,.16],[105.5,.50],[15.65,.38],[15.85,.14],[16.05,.27],[16.25,.03],[16.45,.42],[16.65,.19],[16.85,.51],[17.05,.08],[17.25,.30],[17.45,.22],[17.65,.49],[22.05,.20],[22.45,.42],[22.85,.28],[23.05,.12]];

// second panel: poffset_integrated, ms
const offBlack = [[2.2,12.1],[2.5,11.9],[2.8,12.2],[3.1,12.0],[3.4,11.8],[3.7,12.1],[4.0,11.9],[4.3,12.3],[4.6,12.0],[4.9,11.7],[5.6,11.9],[5.9,12.4],[6.2,12.5],[6.5,12.3],[6.8,12.6],[7.1,12.4],[7.4,12.7],[8.4,12.5],[8.7,12.3],[9.0,12.6],[9.3,12.4],[9.6,12.5],[9.9,12.3],[10.2,12.4],[10.5,12.1],[10.8,11.8],[11.0,11.2],[11.3,10.8],[11.5,10.3],[11.8,9.7],[12.1,9.3],[12.3,10.0],[12.6,8.8],[12.9,8.4],[13.2,8.6],[13.5,8.2],[13.8,7.9],[14.1,8.3],[14.4,7.8],[14.7,8.0],[15.0,7.6],[15.3,7.9],[24.2,10.5],[24.6,11.4],[25.0,12.2],[25.4,12.8],[25.8,13.1],[26.2,13.3],[26.6,13.0],[27.0,12.8],[27.4,13.2],[27.8,12.7],[28.2,13.0],[28.6,12.5],[29.0,13.1],[29.4,12.9],[29.8,13.4],[30.2,12.6],[30.6,13.0],[31.0,12.8],[31.4,12.5],[31.8,13.2],[32.2,12.9],[32.6,12.6],[33.0,13.1],[33.4,12.8],[33.8,13.3],[34.2,12.7],[34.6,13.0],[35.0,12.9],[35.4,13.2],[35.8,12.6],[36.2,13.0],[36.6,13.3],[37.0,12.8],[37.4,13.1],[37.8,12.7],[38.2,13.2],[38.6,13.4],[39.0,12.9],[39.4,13.0],[39.8,13.3],[40.2,13.1],[40.6,12.9],[41.0,13.4],[41.4,13.2],[41.8,13.0],[42.2,13.5],[42.6,13.3],[43.0,13.1],[43.4,13.6],[43.8,13.4],[44.2,13.2],[44.6,13.7],[45.0,13.5],[45.4,13.3],[45.6,14.4],[45.8,12.5],[45.9,12.0],[46.1,10.4],[51.2,-6.1],[51.5,-6.6],[51.8,-6.9],[52.1,-6.4],[52.9,-8.3],[53.2,-8.6],[53.5,-8.9],[54.3,-9.2],[55.2,-9.9],[55.5,-10.4],[55.8,-10.7],[56.0,-11.4],[56.4,-11.9],[56.8,-12.3],[57.2,-12.6],[57.6,-12.9],[58.0,-13.1],[57.0,-11.25],[58.3,-13.75],[58.9,-14.75],[59.5,-12.8],[59.9,-13.3],[60.9,-10.9],[61.3,-11.2],[61.7,-11.0],[62.0,-11.4],[67.5,-18.0],[67.8,-17.2],[68.1,-16.4],[68.6,-15.3],[69.0,-15.0],[69.4,-15.4],[69.8,-15.1],[70.2,-15.3],[70.6,-14.9],[71.0,-15.2],[71.4,-15.4],[71.8,-15.0],[72.2,-15.3],[72.6,-15.5],[73.0,-15.1],[73.4,-14.9],[73.8,-15.3],[74.2,-15.2],[74.6,-14.8],[75.0,-15.1],[75.4,-14.7],[75.8,-14.6],[76.2,-15.0],[76.6,-15.4],[77.0,-14.8],[77.4,-14.5],[77.8,-14.2],[78.2,-13.9],[78.6,-13.5],[79.4,-11.5],[79.7,-11.2],[80.0,-11.6],[80.3,-11.3],[80.6,-11.5],[80.9,-11.1],[81.2,-11.4],[81.6,-10.6],[82.0,-10.2],[82.4,-9.7],[82.8,-9.9],[83.2,-9.5],[83.6,-9.8],[84.0,-10.1],[84.4,-10.4],[84.8,-9.9],[85.2,-10.3],[85.6,-10.0],[86.0,-9.4],[86.4,-8.9],[86.8,-9.2],[87.2,-8.8],[87.6,-9.1],[88.0,-9.3],[88.4,-8.9],[88.8,-9.0],[89.2,-9.4],[89.6,-9.1],[90.0,-8.8],[90.4,-9.2],[90.8,-9.0],[91.2,-9.3],[91.6,-9.5],[91.9,-7.6],[92.1,-6.7],[92.3,-6.0],[92.4,-4.2],[92.6,-3.8],[92.8,-2.4],[93.0,-1.9],[93.3,-1.2],[93.7,-0.9],[94.1,-1.3],[94.5,-1.0],[94.9,-1.4],[95.3,-1.1],[95.7,-0.8],[96.1,-1.2],[96.5,-1.0],[96.9,-1.3],[97.3,-0.9],[97.7,-1.1],[98.1,-1.4],[98.5,-1.0],[98.9,-1.2],[99.3,-0.8],[99.7,-1.1],[100.1,-1.3],[100.5,-1.0],[100.9,-1.2],[101.3,-1.4],[101.7,-1.1],[102.1,-0.9],[102.5,-1.3],[102.9,-1.6],[103.2,-2.2],[103.5,-2.6],[103.8,-2.3],[103.9,-2.8],[104.1,-2.7],[104.4,-2.0],[104.7,-1.6],[105.0,-1.8],[105.3,-2.4],[105.6,-2.7],[105.9,-2.1],[106.2,-2.5]];

const offBlack2 = [[2.35,12.0],[2.65,12.3],[2.95,11.8],[3.25,12.2],[3.55,11.9],[3.85,12.1],[4.15,12.2],[4.45,11.8],[4.75,12.1],[5.05,11.9],[6.05,12.3],[6.35,12.6],[6.65,12.4],[6.95,12.8],[7.25,12.5],[8.25,12.8],[8.55,12.4],[8.85,12.7],[9.15,12.3],[9.45,12.6],[9.75,12.4],[10.05,12.6],[10.35,12.3],[10.65,12.2],[11.15,11.5],[11.65,10.0],[12.0,9.8],[12.45,9.1],[12.75,8.6],[13.05,8.3],[13.35,8.7],[13.65,8.0],[13.95,8.2],[14.25,7.7],[14.55,8.1],[14.85,7.8],[15.15,7.5],[26.8,12.9],[27.2,12.6],[27.6,13.0],[28.0,12.8],[28.4,13.2],[28.8,12.7],[29.2,12.9],[29.6,12.6],[30.0,13.1],[30.4,12.8],[30.8,12.6],[31.2,13.0],[31.6,12.7],[32.0,13.1],[32.4,12.7],[32.8,12.9],[33.2,13.2],[33.6,12.7],[34.0,12.9],[34.4,13.1],[34.8,12.7],[35.2,12.8],[35.6,13.1],[36.0,12.8],[36.4,12.7],[36.8,13.1],[37.2,12.9],[37.6,13.2],[38.0,12.9],[38.4,13.0],[38.8,12.8],[39.2,13.2],[39.6,13.1],[40.0,12.9],[40.4,13.3],[40.8,13.0],[41.2,12.9],[41.6,13.3],[42.0,13.1],[42.4,13.0],[42.8,13.4],[43.2,13.2],[43.6,13.4],[44.0,13.5],[44.4,13.3],[44.8,13.6],[45.2,13.4],[68.8,-15.4],[69.2,-15.2],[69.6,-15.5],[70.0,-15.0],[70.4,-15.3],[70.8,-15.2],[71.2,-14.9],[71.6,-15.3],[72.0,-15.4],[72.4,-15.1],[72.8,-15.3],[73.2,-15.0],[73.6,-15.2],[74.0,-15.4],[74.4,-15.0],[74.8,-15.2],[75.2,-14.9],[75.6,-15.1],[76.0,-14.8],[76.4,-15.3],[76.8,-15.0],[77.2,-14.6],[77.6,-14.3],[78.0,-14.0],[78.4,-13.7],[79.5,-11.6],[79.9,-11.3],[80.2,-11.7],[80.5,-11.2],[80.8,-11.5],[81.1,-11.3],[81.8,-10.3],[82.2,-10.0],[82.6,-9.6],[83.0,-10.0],[83.4,-9.7],[83.8,-10.2],[84.2,-10.3],[84.6,-10.0],[85.0,-10.2],[85.4,-9.9],[85.8,-9.7],[86.6,-9.0],[87.0,-9.1],[87.4,-9.3],[87.8,-8.9],[88.2,-9.2],[88.6,-9.1],[89.0,-8.9],[89.4,-9.2],[89.8,-9.0],[90.2,-9.1],[90.6,-9.3],[91.0,-8.9],[91.4,-9.2],[93.5,-1.1],[93.9,-1.3],[94.3,-0.9],[94.7,-1.2],[95.1,-1.0],[95.5,-1.3],[95.9,-1.1],[96.3,-0.9],[96.7,-1.2],[97.1,-1.0],[97.5,-1.3],[97.9,-0.9],[98.3,-1.2],[98.7,-1.1],[99.1,-1.4],[99.5,-1.0],[99.9,-1.2],[100.3,-0.9],[100.7,-1.3],[101.1,-1.0],[101.5,-1.2],[101.9,-1.0],[102.3,-1.2],[102.7,-1.5]];

const offGreen = [[2.3,12.3],[2.5,11.7],[2.7,12.5],[2.9,12.0],[3.2,12.4],[3.4,11.9],[3.6,12.6],[3.9,12.2],[4.1,11.8],[4.4,12.5],[4.6,12.1],[4.8,12.4],[5.0,11.9],[5.2,11.5],[5.4,11.0],[5.5,11.3],[5.8,12.6],[6.0,13.0],[6.2,13.6],[6.4,12.8],[6.6,13.2],[6.8,12.5],[7.0,12.9],[7.2,13.4],[7.4,12.7],[7.6,14.2],[7.8,14.8],[7.9,14.5],[8.0,13.8],[8.1,14.9],[8.2,13.5],[8.3,12.8],[8.5,12.9],[8.7,12.6],[8.9,13.1],[9.1,12.7],[9.3,12.9],[9.5,12.4],[9.7,12.8],[9.9,12.6],[10.1,12.9],[10.3,12.5],[10.5,12.7],[10.7,12.1],[10.9,11.6],[11.1,11.9],[11.2,10.9],[11.4,11.3],[11.6,10.5],[11.8,10.0],[11.9,10.6],[12.1,9.9],[12.3,10.3],[12.5,9.6],[12.7,9.4],[12.9,8.9],[13.1,9.2],[13.3,8.7],[13.5,9.0],[13.7,8.5],[13.9,8.8],[14.1,8.1],[14.3,8.6],[14.5,8.3],[14.7,7.9],[14.9,8.4],[15.1,8.1],[15.3,7.7],[15.5,7.3],[15.7,7.1],[15.9,6.6],[16.1,6.9],[16.3,6.3],[16.5,6.7],[16.7,6.1],[16.9,6.5],[17.1,6.2],[17.3,6.8],[17.5,6.0],[17.7,6.4],[17.9,6.1],[18.1,6.6],[18.3,6.9],[18.5,7.3],[18.7,7.0],[18.9,7.6],[19.1,6.9],[19.3,7.4],[19.5,7.1],[19.7,6.8],[19.9,3.8],[20.0,2.9],[20.1,3.4],[20.2,2.5],[20.3,3.1],[20.4,1.6],[20.6,1.3],[20.8,2.4],[21.0,3.0],[21.2,2.7],[21.4,3.5],[21.6,4.1],[21.8,4.8],[22.0,4.4],[22.2,5.4],[22.4,6.2],[22.6,6.8],[22.8,7.1],[23.0,7.6],[23.2,7.3],[23.4,8.2],[23.6,8.8],[23.8,9.3],[24.0,9.6],[24.2,10.1],[24.4,10.8],[24.6,11.2],[24.8,11.6],[25.0,11.4],[25.2,12.4],[25.4,13.2],[25.6,13.6],[25.8,12.9],[26.0,13.4],[26.2,12.6],[26.4,13.8],[26.6,13.1],[25.7,10.9],[26.3,11.0],[26.8,13.5],[27.1,12.9],[27.4,13.7],[27.7,12.4],[28.0,13.3],[28.3,13.9],[28.6,12.8],[28.9,13.4],[29.2,12.2],[29.5,13.6],[29.8,13.1],[30.1,12.7],[30.4,14.1],[30.7,13.2],[31.0,12.5],[31.1,11.7],[31.3,13.8],[31.6,12.9],[31.9,13.4],[32.2,12.3],[32.5,13.6],[32.8,13.0],[33.1,14.3],[33.4,12.6],[33.7,13.5],[34.0,12.9],[34.3,13.7],[34.6,12.4],[34.9,13.3],[35.2,13.9],[35.5,12.7],[35.8,13.4],[36.1,12.1],[36.4,13.6],[36.7,13.0],[37.0,14.2],[37.0,11.7],[37.3,12.8],[37.6,13.5],[37.9,13.1],[38.2,12.5],[38.5,13.8],[38.8,13.2],[39.1,14.4],[39.4,12.7],[39.7,13.6],[40.0,13.3],[40.3,12.9],[40.6,13.9],[40.9,13.4],[41.2,12.6],[41.5,14.0],[41.8,13.1],[42.1,13.7],[42.4,12.8],[42.7,13.5],[43.0,14.1],[43.3,13.2],[43.6,13.8],[43.9,12.9],[44.2,13.6],[44.5,14.2],[44.8,13.4],[45.1,13.9],[45.4,13.6],[45.7,13.2],[46.0,12.9],[46.2,12.3],[46.3,8.5],[46.4,8.2],[46.5,6.6],[46.6,5.6],[46.8,6.9],[46.9,6.4],[47.4,2.6],[47.5,1.8],[47.6,2.2],[47.8,0.3],[47.9,-0.6],[48.1,-2.0],[48.3,-3.2],[50.6,-5.4],[50.9,-6.0],[51.5,-5.3],[51.6,-6.3],[51.9,-5.9],[52.2,-6.8],[52.5,-6.5],[52.1,-9.3],[52.1,-10.2],[52.7,-7.3],[53.0,-7.0],[53.3,-7.8],[53.6,-7.5],[53.9,-8.0],[54.1,-7.2],[54.4,-7.7],[54.7,-8.4],[55.0,-8.1],[55.3,-8.8],[54.0,-9.4],[54.3,-10.1],[54.6,-10.6],[54.9,-9.8],[54.0,-12.5],[55.9,-11.0],[56.2,-11.5],[56.5,-11.2],[56.8,-11.9],[57.1,-12.2],[57.4,-12.0],[57.7,-12.6],[58.0,-12.9],[57.0,-10.3],[58.3,-13.8],[58.6,-14.4],[58.8,-15.0],[59.0,-14.7],[59.2,-14.1],[59.4,-13.5],[59.6,-12.9],[59.8,-12.3],[60.0,-12.6],[60.2,-11.9],[60.4,-11.3],[60.6,-10.8],[60.9,-10.4],[61.2,-10.9],[61.5,-10.2],[61.8,-11.1],[62.1,-10.6],[62.4,-10.8],[62.8,-11.3],[63.2,-10.6],[63.7,-11.0],[64.2,-10.7],[64.6,-11.2],[63.3,-13.1],[63.5,-13.4],[62.5,-15.7],[64.9,-20.6],[65.2,-20.3],[65.5,-20.9],[65.8,-21.1],[66.1,-20.5],[66.5,-19.8],[66.8,-19.4],[67.1,-19.9],[67.3,-19.0],[67.6,-17.8],[67.9,-16.8],[68.2,-16.0],[68.4,-15.2],[68.7,-14.7],[68.9,-14.8],[69.2,-14.5],[69.5,-15.0],[69.8,-14.6],[70.1,-14.9],[70.4,-14.4],[70.7,-15.1],[71.0,-14.7],[71.3,-14.9],[71.6,-14.5],[71.9,-15.0],[72.2,-14.8],[72.5,-14.3],[72.8,-14.9],[73.1,-14.6],[73.4,-15.2],[73.7,-14.7],[74.0,-14.4],[74.3,-14.9],[74.6,-14.2],[74.9,-14.6],[75.2,-14.0],[75.5,-14.4],[75.8,-13.9],[76.1,-14.5],[76.4,-14.9],[76.7,-14.3],[77.0,-13.8],[77.3,-14.1],[77.6,-13.6],[77.9,-13.2],[78.2,-13.6],[78.5,-13.0],[78.8,-12.9],[79.0,-13.4],[79.2,-11.0],[79.5,-11.6],[79.8,-10.9],[80.1,-11.3],[80.4,-10.8],[80.7,-11.2],[81.0,-10.7],[81.4,-10.3],[81.7,-9.8],[82.0,-10.5],[82.3,-9.4],[82.6,-9.9],[82.9,-9.2],[83.2,-10.1],[83.5,-8.8],[83.8,-9.5],[84.1,-10.7],[84.4,-9.7],[84.7,-10.3],[85.0,-9.0],[85.3,-9.6],[85.6,-10.4],[85.9,-8.9],[86.2,-9.3],[84.5,-12.2],[86.1,-12.3],[86.5,-8.6],[86.8,-9.0],[87.1,-8.4],[87.4,-8.9],[87.7,-8.5],[88.0,-9.1],[88.3,-8.7],[88.6,-8.3],[88.9,-8.8],[89.2,-9.0],[89.5,-8.6],[89.8,-8.9],[90.1,-8.4],[90.4,-8.8],[90.7,-9.2],[91.0,-8.7],[91.3,-9.0],[91.6,-9.6],[91.7,-10.9],[91.9,-7.2],[92.0,-6.4],[92.2,-5.5],[92.3,-4.7],[92.5,-4.1],[92.6,-3.3],[92.8,-2.7],[92.9,-1.6],[93.0,-0.6],[93.2,-0.4],[93.5,-1.0],[93.8,-0.5],[94.1,-0.8],[94.4,-0.3],[94.7,-1.1],[95.0,-0.6],[95.3,-0.9],[95.6,-1.4],[95.9,-0.7],[96.2,-1.0],[96.5,-0.5],[96.8,-0.9],[97.1,-0.4],[97.4,-1.2],[97.7,-0.7],[98.0,-1.0],[98.3,-0.6],[98.6,-1.3],[98.9,-0.8],[99.2,-0.3],[99.5,-1.0],[99.8,-0.6],[100.1,-1.1],[100.4,-0.8],[100.7,-0.2],[101.0,-1.2],[101.3,-0.7],[101.6,-1.0],[101.9,-0.4],[102.2,-0.9],[102.5,-1.5],[102.6,0.2],[102.8,-0.6],[96.2,-2.5],[100.1,-5.6],[103.0,-1.8],[103.3,-2.4],[103.6,-1.6],[103.9,-2.9],[104.2,-2.0],[104.5,-1.3],[104.8,-1.7],[105.1,-0.9],[105.4,-1.5],[105.7,-2.2],[106.0,-2.0],[106.3,-2.6],[106.5,-2.9],[106.3,-4.3],[106.4,-4.7],[107.6,-4.4],[108.0,-8.3],[108.3,-9.6],[108.6,-10.2],[108.7,-9.1]];

const offGreen2 = [[2.2,11.8],[2.4,12.4],[2.6,12.0],[2.8,12.6],[3.0,12.2],[3.3,12.7],[3.5,12.1],[3.7,11.8],[4.0,12.4],[4.2,12.0],[4.5,12.7],[4.7,11.9],[4.9,12.2],[5.7,12.2],[5.9,12.9],[6.1,12.7],[6.3,13.1],[6.5,12.6],[6.7,12.9],[6.9,13.3],[7.1,12.6],[7.3,13.0],[7.5,13.5],[7.7,14.6],[7.85,14.0],[8.05,14.3],[8.4,13.2],[8.6,12.5],[8.8,12.9],[9.0,12.4],[9.2,13.0],[9.4,12.6],[9.6,12.9],[9.8,12.5],[10.0,12.7],[10.2,12.4],[10.4,12.9],[10.6,12.3],[10.8,11.9],[11.0,11.4],[11.3,11.1],[11.5,10.7],[11.7,10.3],[12.0,10.2],[12.2,9.5],[12.4,10.0],[12.6,9.1],[12.8,9.3],[13.0,8.7],[13.2,9.0],[13.4,8.4],[13.6,8.9],[13.8,8.3],[14.0,8.6],[14.2,8.0],[14.4,8.5],[14.6,7.8],[14.8,8.2],[15.0,7.9],[15.2,7.5],[15.4,7.6],[15.6,6.9],[15.8,6.5],[16.0,6.2],[16.2,6.6],[16.4,6.0],[16.6,6.4],[16.8,6.7],[17.0,6.3],[17.2,5.9],[17.4,6.5],[17.6,6.2],[17.8,6.6],[18.0,6.0],[18.2,6.8],[18.4,7.0],[18.6,7.5],[18.8,6.9],[19.0,7.3],[19.2,6.7],[19.4,7.6],[19.6,7.0],[26.9,13.2],[27.2,13.9],[27.5,13.1],[27.8,13.6],[28.1,12.6],[28.4,13.5],[28.7,13.0],[29.0,13.8],[29.3,12.9],[29.6,13.3],[29.9,12.5],[30.2,13.5],[30.5,12.9],[30.8,13.6],[31.1,13.1],[31.4,12.7],[31.7,13.5],[32.0,13.0],[32.3,13.8],[32.6,12.7],[32.9,13.3],[33.2,12.9],[33.5,13.6],[33.8,13.1],[34.1,12.6],[34.4,13.4],[34.7,13.0],[35.0,13.7],[35.3,12.8],[35.6,13.3],[35.9,13.0],[36.2,13.8],[36.5,12.9],[36.8,13.4],[37.1,13.1],[37.4,13.7],[37.7,12.9],[38.0,13.4],[38.3,13.0],[38.6,13.6],[38.9,13.9],[39.2,13.3],[39.5,13.0],[39.8,13.8],[40.1,13.4],[40.4,13.7],[40.7,13.1],[41.0,13.5],[41.3,13.2],[41.6,13.8],[41.9,13.4],[42.2,13.1],[42.5,13.9],[42.8,13.6],[43.1,13.3],[43.4,13.9],[43.7,13.5],[44.0,13.2],[44.3,13.8],[44.6,13.5],[44.9,14.0],[45.2,13.7],[45.5,13.9],[50.8,-5.7],[51.1,-6.2],[51.4,-5.8],[52.4,-7.0],[52.9,-7.6],[53.4,-7.2],[53.7,-8.3],[55.0,-9.5],[55.6,-10.3],[56.0,-10.8],[56.3,-11.7],[56.7,-11.4],[57.3,-12.4],[57.6,-12.2],[57.9,-12.7],[58.2,-13.3],[58.5,-14.0],[58.9,-14.5],[59.1,-14.9],[59.3,-13.9],[59.5,-13.1],[59.7,-12.6],[60.1,-12.1],[60.3,-11.6],[60.7,-11.0],[61.0,-10.6],[61.4,-10.7],[61.7,-10.4],[62.0,-10.9],[62.3,-10.5],[62.6,-11.0],[63.0,-10.8],[63.5,-11.2],[63.9,-10.6],[64.4,-11.0],[64.8,-10.8],[65.0,-21.0],[65.4,-20.6],[65.7,-20.4],[66.0,-20.8],[66.3,-20.2],[66.7,-19.6],[67.0,-19.3],[67.2,-18.6],[67.4,-18.2],[67.7,-17.3],[68.0,-16.5],[68.3,-15.6],[68.6,-15.0],[68.9,-14.4],[69.1,-15.1],[69.4,-14.7],[69.7,-15.2],[70.0,-14.5],[70.3,-14.8],[70.6,-14.6],[70.9,-14.9],[71.2,-14.4],[71.5,-15.1],[71.8,-14.7],[72.1,-14.5],[72.4,-15.0],[72.7,-14.6],[73.0,-14.9],[73.3,-14.4],[73.6,-14.9],[73.9,-14.6],[74.2,-14.5],[74.5,-14.8],[74.8,-14.4],[75.1,-14.7],[75.4,-14.2],[75.7,-14.5],[76.0,-14.2],[76.3,-14.6],[76.6,-14.7],[76.9,-14.0],[77.2,-14.3],[77.5,-13.9],[77.8,-13.5],[78.1,-13.8],[78.4,-13.3],[78.7,-13.2],[79.3,-11.3],[79.6,-11.0],[79.9,-11.5],[80.2,-11.0],[80.5,-11.4],[80.8,-10.9],[81.1,-11.1],[81.5,-10.0],[81.8,-10.2],[82.1,-9.6],[82.4,-10.1],[82.7,-9.5],[83.0,-9.8],[83.3,-9.3],[83.6,-10.0],[83.9,-9.7],[84.2,-9.4],[84.5,-10.0],[84.8,-9.6],[85.1,-10.1],[85.4,-9.4],[85.7,-9.8],[86.0,-9.1],[86.3,-8.8],[86.6,-9.2],[86.9,-8.7],[87.2,-9.0],[87.5,-8.6],[87.8,-9.2],[88.1,-8.8],[88.4,-9.0],[88.7,-8.6],[89.0,-9.2],[89.3,-8.7],[89.6,-9.3],[89.9,-8.6],[90.2,-9.0],[90.5,-8.5],[90.8,-8.9],[91.1,-9.2],[91.4,-8.8],[92.05,-6.9],[92.15,-5.9],[92.35,-4.4],[92.55,-3.7],[92.7,-3.0],[92.85,-2.1],[92.95,-1.1],[93.1,-0.8],[93.4,-0.6],[93.7,-1.2],[94.0,-0.5],[94.3,-1.0],[94.6,-0.7],[94.9,-0.4],[95.2,-1.2],[95.5,-0.7],[95.8,-1.0],[96.1,-0.5],[96.4,-0.8],[96.7,-1.3],[97.0,-0.7],[97.3,-0.5],[97.6,-1.0],[97.9,-0.6],[98.2,-1.2],[98.5,-0.8],[98.8,-0.4],[99.1,-1.0],[99.4,-0.7],[99.7,-1.3],[100.0,-0.6],[100.3,-0.4],[100.6,-1.0],[100.9,-0.7],[101.2,-0.3],[101.5,-1.3],[101.8,-0.8],[102.1,-0.5],[102.4,-1.1],[102.7,-0.9],[103.1,-2.1],[103.4,-1.7],[103.7,-2.6],[104.0,-2.3],[104.3,-1.6],[104.6,-2.1],[104.9,-1.4],[105.2,-1.2],[105.5,-1.9],[105.8,-2.5],[106.1,-2.3],[106.4,-2.2]];

const offBlue = [[5.3,11.1],[5.5,11.3],[7.7,14.4],[7.9,14.7],[11.9,8.7],[13.6,10.3],[12.8,11.1],[16.4,5.5],[25.1,13.3],[29.4,13.8],[31.0,12.0],[32.1,13.9],[35.7,13.75],[36.9,12.2],[38.6,14.1],[39.1,14.25],[38.8,12.6],[46.3,8.3],[51.7,-4.9],[55.2,-7.7],[55.8,-12.5],[56.8,-13.6],[60.5,-10.8],[62.1,-11.8],[72.0,-14.2],[71.8,-14.0],[81.9,-11.8],[83.9,-8.0],[85.4,-11.2],[89.0,-8.0],[88.9,-10.0],[91.7,-10.0],[94.6,-1.7],[97.6,-0.5],[100.1,-0.3],[103.4,-4.2],[105.3,-0.4],[106.0,-0.25]];

const offRed = [[18.8,8.3],[19.2,7.0],[19.5,6.8],[19.6,5.8],[20.3,2.3],[20.5,1.5],[20.7,1.2],[20.9,2.8],[21.1,3.3],[21.3,2.5],[21.5,3.7],[21.7,4.5],[21.9,5.2],[22.1,4.9],[22.3,5.6],[22.0,6.4],[22.2,6.8],[46.5,6.2],[46.7,5.3],[46.8,4.5],[47.0,4.0],[47.1,3.7],[47.2,4.7],[47.4,2.2],[47.6,1.5],[47.7,1.1],[48.0,-0.4],[48.2,-1.7],[48.4,-2.6],[48.5,-3.9],[48.7,-4.3],[48.8,-6.0],[49.0,-7.0],[49.2,-7.6],[49.4,-7.2],[49.6,-8.0],[49.8,-7.4],[50.0,-7.1],[50.2,-5.2],[50.5,-5.6],[50.7,-5.0],[62.6,-10.6],[63.0,-11.1],[63.4,-10.4],[63.8,-11.5],[64.1,-10.9],[64.4,-11.3],[64.7,-10.5],[65.0,-11.0],[64.9,-21.5],[65.3,-21.3],[65.6,-21.6],[65.9,-21.0],[66.2,-21.5],[66.6,-20.0],[66.9,-19.6],[106.8,-1.9],[107.0,-2.6],[107.3,-2.2],[107.7,-4.8],[107.8,-6.7],[107.9,-7.0],[108.1,-8.6],[108.3,-10.5],[108.5,-11.2],[108.7,-10.8],[108.6,-9.5]];

const offYellow = [[15.8,6.3],[16.2,5.8],[16.6,6.0],[17.0,5.6],[17.4,5.9],[17.8,5.5],[18.2,6.2],[17.0,6.8],[22.4,7.0],[22.6,6.6],[22.9,7.1],[61.2,-10.25],[62.1,-10.6],[66.6,-19.5],[69.2,-14.0],[78.1,-15.1],[81.2,-9.5],[103.2,-3.3],[103.4,-3.5],[105.0,-3.75]];

const BASE = Date.UTC(2010, 1, 20);
const hr = h => new Date(BASE + h * 3600e3);
const COLORS = {black:"#000000", green:"#00ff00", blue:"#0000ff", red:"#ff0000", yellow:"#ffff00"};

const svg = d3.select("#c");
const x = d3.scaleUtc().domain([hr(timeStart), hr(timeEnd)]).range([142, 1120]);

function panel(o) {
  const g = svg.append("g");
  const y = d3.scaleLinear().domain(o.yDomain).range([o.yBottom, o.yTop]);
  o.series.forEach(([data, col]) => {
    g.append("g").selectAll("circle").data(data).join("circle")
      .attr("cx", d => x(hr(d[0]))).attr("cy", d => y(d[1]))
      .attr("r", 3).attr("fill", COLORS[col]);
  });
  const ya = g.append("g").attr("transform", "translate(142,0)");
  ya.call(d3.axisLeft(y).tickValues(o.major).tickSize(5).tickPadding(11)
      .tickSizeOuter(0).tickFormat((d, i) => o.labels[i]));
  ya.append("g").call(d3.axisLeft(y).tickValues(o.minor).tickSize(5).tickSizeOuter(0).tickFormat(""))
    .select(".domain").remove();
  ya.selectAll("text").attr("font-family", "'DejaVu Serif', serif").attr("font-size", 20)
    .attr("fill", "#000").attr("dy", "0.36em");
  const xa = g.append("g").attr("transform", `translate(0,${o.yBottom})`);
  xa.call(d3.axisBottom(x).tickValues(dayTicks.map(hr)).tickSize(4).tickSizeOuter(0).tickFormat(""));
  g.selectAll(".domain").attr("stroke-width", 2.2).attr("stroke", "#000");
  g.selectAll(".tick line").attr("stroke-width", 2).attr("stroke", "#000");
  g.selectAll(".xlab").data(dayTicks.filter(d => dayLabels[d])).join("text")
    .attr("x", d => x(hr(d))).attr("y", o.xLabelY).attr("text-anchor", "middle")
    .attr("font-family", "'DejaVu Serif', serif").attr("font-size", 20).text(d => dayLabels[d]);
  g.append("text").attr("x", 631).attr("y", o.titleY).attr("text-anchor", "middle")
    .attr("font-family", "'Liberation Mono', monospace").attr("font-size", 23).text(o.title);
}

panel({
  yDomain: [0, 6.5], yBottom: 464, yTop: 22, major: delayTicks, minor: delayMinor, labels: delayTickLabels,
  xLabelY: 497, titleY: 24, title: titles[0],
  series: [[delayYellow, "yellow"], [delayRed, "red"], [delayBlack, "black"], [delayBlack2, "black"], [delayBlue, "blue"],
           [delayGreen, "green"], [delayGreenMid, "green"], [delayGreenLow, "green"], [delayGreenHigh, "green"]]
});
panel({
  yDomain: [-21.667, 15], yBottom: 993, yTop: 553, major: offTicks, minor: offMinor, labels: offTickLabels,
  xLabelY: 1028, titleY: 553, title: titles[1],
  series: [[offYellow, "yellow"], [offRed, "red"], [offBlack, "black"], [offBlack2, "black"], [offBlue, "blue"],
           [offGreen, "green"], [offGreen2, "green"]]
});
</script></body></html>
